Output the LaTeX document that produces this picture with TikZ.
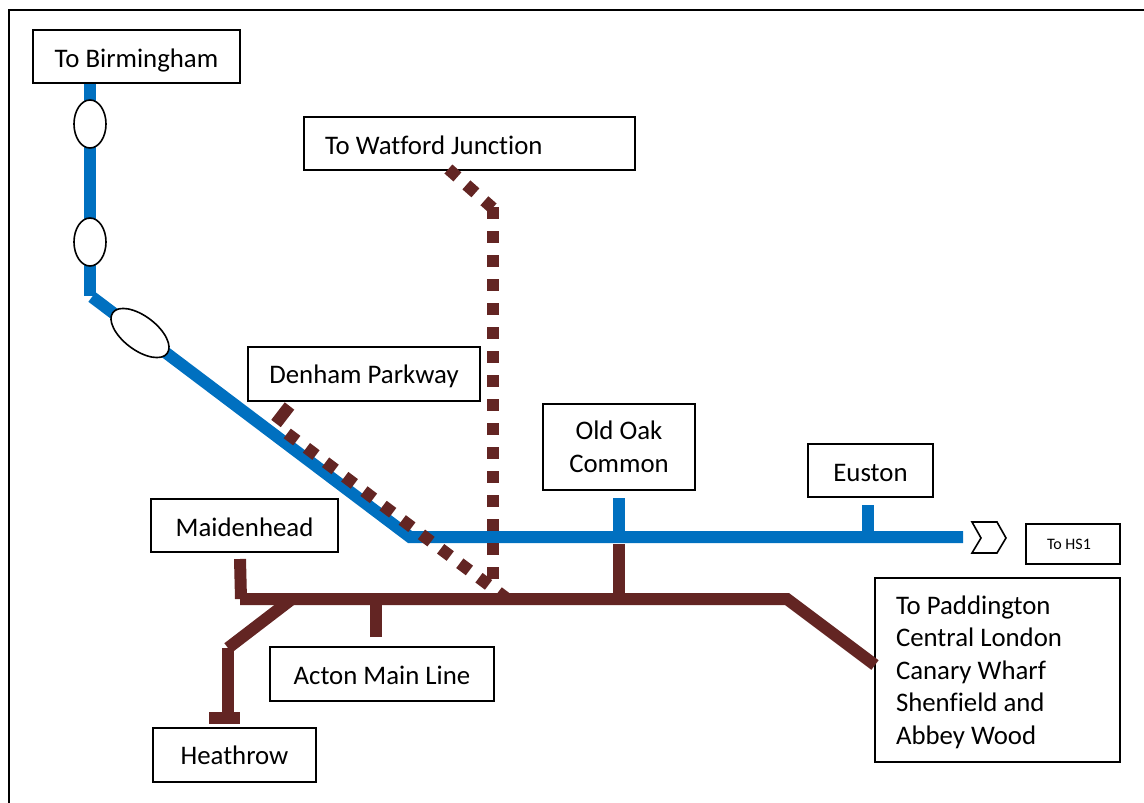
\documentclass[tikz,border=0pt]{standalone}
\usepackage{fontspec}
\setmainfont{Carlito}[Ligatures=NoCommon]
\usepackage[HTML]{xcolor}
\usetikzlibrary{positioning}
\definecolor{lineblue}{HTML}{0070C0}
\definecolor{linebrown}{HTML}{632523}
\tikzset{
  stationbox/.style={draw=black, line width=1.8pt, fill=white, inner sep=0pt, text height=23pt, text depth=5pt, font=\fontsize{26.8}{32.5}\selectfont},
  bluetrack/.style={draw=lineblue, line width=12pt},
  browntrack/.style={draw=linebrown, line width=12pt},
  dottrack/.style={browntrack, dash pattern=on 12pt off 12pt},
  tunnel/.style={draw=black, line width=1.6pt, fill=white, ellipse, inner sep=0pt, minimum width=32pt, minimum height=48pt}
}
\usetikzlibrary{shapes.geometric}
\begin{document}
\begin{tikzpicture}[x=1pt,y=-1pt]
\useasboundingbox (0,0) rectangle (1144,803);
\draw[line width=2pt] (8.5,803)--(8.5,9.5)--(1144,9.5);
% stations
\node[stationbox, minimum width=207, minimum height=53, text height=27pt] (birmingham) at (136.5,56.5) {To Birmingham};
\node[stationbox, minimum width=331, minimum height=53, text width=289, align=flush left, text height=27pt] (watford) at (469.5,143.5) {To Watford Junction};
\node[stationbox, minimum width=232, minimum height=54] (denham) at (364,374) {Denham Parkway};
\node[stationbox, minimum width=152, minimum height=86, text width=150, align=flush center, text depth=37.5pt] (oldoak) at (619,447) {Old Oak\\Common};
\node[stationbox, minimum width=125, minimum height=53, text height=27pt] (euston) at (870.5,470.5) {Euston};
\node[stationbox, minimum width=187, minimum height=53, text height=27pt] (maidenhead) at (244.5,525.5) {Maidenhead};
\node[stationbox, minimum width=94, minimum height=40, text height=14pt, text depth=4pt, font=\fontsize{16}{19}\selectfont] (hsone) at (1073,544) {\hspace{-8pt}To HS1};
\node[stationbox, minimum width=245, minimum height=184, text width=203, align=flush left, text depth=135pt] (paddington) at (997.5,670) {To Paddington\\Central London\\Canary Wharf\\Shenfield and\\Abbey Wood};
\node[stationbox, minimum width=224, minimum height=54, text height=25pt] (acton) at (382,674) {Acton Main Line};
\node[stationbox, minimum width=163, minimum height=54] (heathrow) at (234.5,755) {Heathrow};
% junctions
\coordinate (bluebend) at (90,296);
\coordinate (bluediag) at (92,297);
\coordinate (bluecorner) at (410,537);
\coordinate (blueend) at (963,537);
\coordinate (oldoakblue) at (619,498);
\coordinate (eustonblue) at (868,505);
\coordinate (mainwest) at (240,599);
\coordinate (maineast) at (787,599);
\coordinate (paddingtonend) at (875,665);
\coordinate (heathrowfork) at (292,599);
\coordinate (heathrowbend) at (228,648);
\coordinate (heathrowstop) at (228,718);
\coordinate (heathrowbarl) at (209,718);
\coordinate (heathrowbarr) at (240,718);
\coordinate (maidenstub) at (240,559);
\coordinate (maidenfoot) at (241,599);
\coordinate (actonstub) at (376,637);
\coordinate (oldoakstub) at (619,544);
\coordinate (watfordbend) at (493,207);
\coordinate (watfordelbow) at (492.6,208);
\coordinate (watfordfoot) at (493,588);
\coordinate (watfordtop) at (448.4,169);
\coordinate (denhambarup) at (289.5,406);
\coordinate (denhambardown) at (276,423.5);
\coordinate (denhamtop) at (287.2,433.4);
\coordinate (denhamfoot) at (506,598);
% blue line
\draw[bluetrack] (bluebend |- birmingham.south)--(bluebend);
\draw[bluetrack] (bluediag)--(bluecorner)--(blueend);
\draw[bluetrack] (oldoakblue)--(oldoakblue |- blueend);
\draw[bluetrack] (eustonblue)--(eustonblue |- blueend);
\node[tunnel] (tunnelone) at (90,124) {};
\node[tunnel] (tunneltwo) at (90,242) {};
\node[tunnel, minimum width=68pt, minimum height=34pt, rotate=-37] (tunnelthree) at (140,333) {};
\draw[draw=black, line width=1.6pt, fill=white] (972,522)--(997,522)--(1006,538)--(997,553)--(972,553)--(981,538)--cycle;
% brown lines
\draw[dottrack] (watfordtop)--(watfordelbow);
\draw[dottrack] (watfordbend)--(watfordfoot);
\draw[browntrack] (denhambarup)--(denhambardown);
\draw[dottrack] (denhamtop)--(denhamfoot);
\draw[browntrack] (maidenstub)--(maidenfoot);
\draw[browntrack] (mainwest)--(maineast)--(paddingtonend);
\draw[browntrack] (heathrowfork)--(heathrowbend);
\draw[browntrack] (heathrowbend)--(heathrowstop);
\draw[browntrack] (heathrowbarl)--(heathrowbarr);
\draw[browntrack] (actonstub)--(actonstub |- mainwest);
\draw[browntrack] (oldoakstub)--(oldoakstub |- mainwest);
\end{tikzpicture}
\end{document}
